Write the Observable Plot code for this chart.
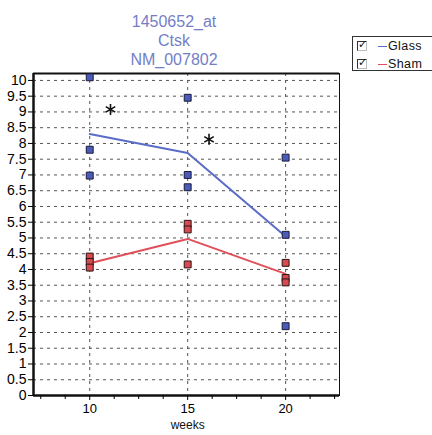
<!DOCTYPE html>
<html>
<head>
<meta charset="utf-8">
<script src="https://cdn.jsdelivr.net/npm/d3@7"></script>
<script src="https://cdn.jsdelivr.net/npm/@observablehq/plot@0.6"></script>
<style>
  html, body { margin: 0; padding: 0; background: #fff; }
  #wrap { position: relative; width: 432px; height: 435px; overflow: hidden; font-family: "Liberation Sans", Arial, sans-serif; }
  #title { position: absolute; left: 74px; width: 200px; top: 12px; text-align: center; color: #747ec8; font-size: 16px; line-height: 19px; }
  #chart { position: absolute; left: 0; top: 62px; }
  #legend { position: absolute; left: 352px; top: 36px; width: 84px; height: 35px; border: 1px solid #333; box-sizing: border-box; font-size: 12.5px; color: #111; }
  .row { position: absolute; left: 4px; height: 14px; display: flex; align-items: center; letter-spacing: 0.4px; }
  .cb { width: 8px; height: 8px; border-left: 1.5px solid #333; border-top: 1.5px solid #333; border-right: 1px solid #bbb; border-bottom: 1px solid #bbb; position: relative; margin-right: 11px; }
  .cb::after { content: "✓"; position: absolute; left: 0px; top: -4px; font-size: 11px; color: #111; }
  .sw { width: 9px; height: 0; border-top: 1.5px solid; margin-right: 1px; }
</style>
</head>
<body>
<div id="wrap">
  <div id="title">1450652_at<br>Ctsk<br>NM_007802</div>
  <div id="chart"></div>
  <div id="legend">
    <div class="row" style="top:2px"><div class="cb"></div><div class="sw" style="border-color:#5a6cc6"></div><span>Glass</span></div>
    <div class="row" style="top:20px"><div class="cb"></div><div class="sw" style="border-color:#e0505a"></div><span>Sham</span></div>
  </div>
</div>
<script>
// weeks
const weeks = [10, 15, 20];
// individual sample values
const glassX = [10, 10, 10, 15, 15, 15, 20, 20, 20];
const glassY = [10.1, 7.8, 6.98, 9.45, 7.0, 6.61, 7.55, 5.1, 2.2];
const shamX  = [10, 10, 10, 15, 15, 15, 20, 20, 20];
const shamY  = [4.41, 4.24, 4.06, 5.45, 5.27, 4.16, 4.21, 3.73, 3.59];
// group mean lines
const glassMean = [8.3, 7.7, 5.05];
const shamMean  = [4.2, 4.97, 3.86];
// significance markers
const starX = [11.06, 16.09];
const starY = [9.08, 8.13];
// ticks
const yTicks = d3.range(0, 10.01, 0.5);
const xMinor = [7.5, 8.75, 11.25, 12.5, 13.75, 16.25, 17.5, 18.75, 21.25, 22.5];

const glass = glassX.map((x, i) => ({x, y: glassY[i]}));
const sham = shamX.map((x, i) => ({x, y: shamY[i]}));
const gMean = weeks.map((x, i) => ({x, y: glassMean[i]}));
const sMean = weeks.map((x, i) => ({x, y: shamMean[i]}));
const stars = starX.map((x, i) => ({x, y: starY[i]}));

const xDom = [7.13, 22.75];
const blue = "#5a6cc6", red = "#e0505a";

const chart = Plot.plot({
  width: 432,
  height: 373,
  marginTop: 11,
  marginBottom: 40,
  marginLeft: 33,
  marginRight: 93,
  style: {fontFamily: "Liberation Sans, Arial, sans-serif", background: "transparent"},
  x: {domain: xDom},
  y: {domain: [0, 10.22]},
  marks: [
    Plot.ruleY(yTicks.filter(d => d > 0), {y: d => d, stroke: "#555", strokeWidth: 1, strokeDasharray: "3,4"}),
    Plot.ruleX(weeks, {x: d => d, stroke: "#555", strokeWidth: 1, strokeDasharray: "3,4"}),
    Plot.frame({stroke: "#111", strokeWidth: 1}),
    Plot.ruleY([0], {stroke: "#111", strokeWidth: 2.5}),
    Plot.ruleY([10.22], {stroke: "#111", strokeWidth: 2}),
    Plot.ruleX([xDom[0]], {stroke: "#111", strokeWidth: 2.5}),
    Plot.axisY({ticks: yTicks, tickFormat: d => String(+d.toFixed(1)), tickSize: 5, tickPadding: 2, fontSize: 14, label: null, style: {letterSpacing: "-0.8px"}}),
    Plot.axisX({ticks: weeks, tickFormat: d => String(d), tickSize: 5, tickPadding: 3, fontSize: 13, label: null}),
    Plot.axisX({ticks: xMinor, tickFormat: () => "", tickSize: 4, label: null}),
    Plot.text(["weeks"], {x: () => 15, frameAnchor: "bottom", dy: 33, fontSize: 12, fill: "#111"}),
    Plot.line(sMean, {x: "x", y: "y", stroke: red, strokeWidth: 2}),
    Plot.line(gMean, {x: "x", y: "y", stroke: blue, strokeWidth: 2}),
    Plot.dot(glass, {x: "x", y: "y", symbol: "square", r: 3.9, fill: "#4a5cb8", stroke: "#1a1a3a", strokeWidth: 1}),
    Plot.dot(sham, {x: "x", y: "y", symbol: "square", r: 3.9, fill: "#d84a50", stroke: "#2a1414", strokeWidth: 1}),
    Plot.dot(stars, {x: "x", y: "y", symbol: "asterisk", r: 5.2, stroke: "#111", strokeWidth: 1.6})
  ]
});
document.getElementById("chart").appendChild(chart);
</script>
</body>
</html>
